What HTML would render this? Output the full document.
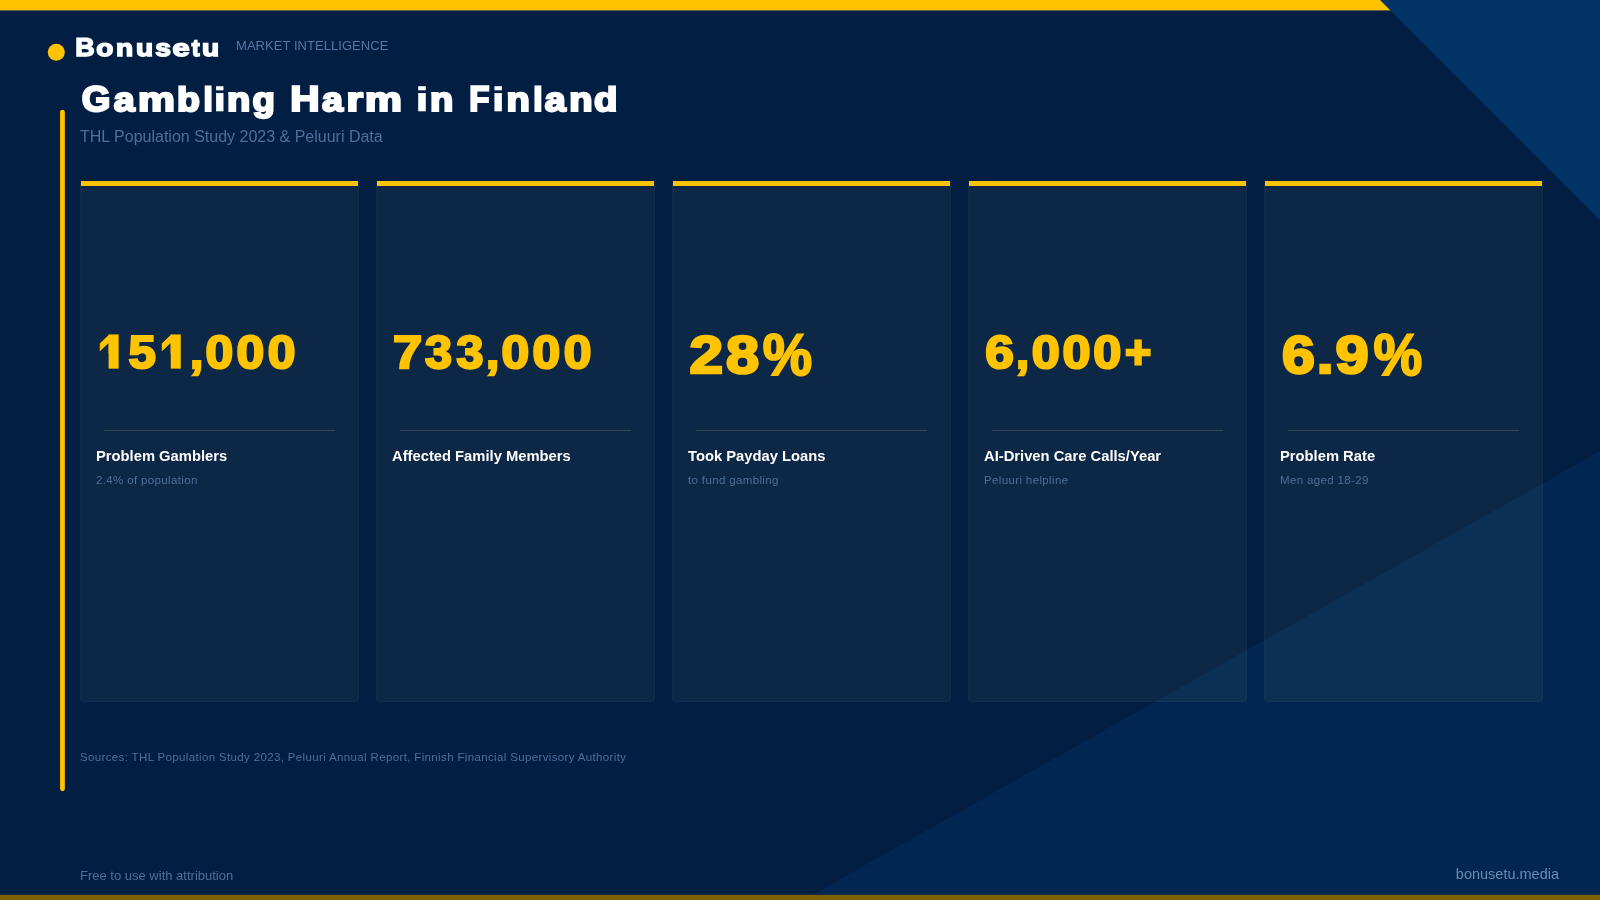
<!DOCTYPE html>
<html lang="en">
<head>
<meta charset="utf-8">
<title>Gambling Harm in Finland</title>
<style>
*{margin:0;padding:0;box-sizing:border-box}
html,body{width:1600px;height:900px;overflow:hidden;background:#021e43}
body{font-family:"Liberation Sans",sans-serif;position:relative;color:#fff}
.abs{position:absolute;white-space:nowrap;line-height:1}
svg{position:absolute;left:0;top:0;width:1600px;height:900px}
svg.hv{will-change:transform}
.layer{position:absolute;left:0;top:0;width:1600px;height:900px;will-change:transform}
svg .num text{fill:#ffc300;stroke:#ffc300}
svg .num rect{fill:#ffc300}
svg .hw text{fill:#fff;stroke:#fff}
svg text{font-family:"Liberation Sans",sans-serif;font-weight:700;white-space:pre;text-rendering:geometricPrecision}
.tag{left:236px;top:39px;font-size:13px;letter-spacing:0.05px;color:#5577a2}
.sub{left:80px;top:129px;font-size:16px;color:#506e98}
.card{position:absolute;top:181px;width:279px;height:520.6px;background:rgba(255,240,150,0.047);border:1px solid rgba(255,255,255,0.028);border-radius:4px;overflow:hidden}
.bar{position:absolute;top:180.8px;width:277px;height:5.2px;background:#ffc300}
.div{position:absolute;height:1px;width:231px;top:430px;background:rgba(255,255,150,0.14)}
.lab{font-size:14.75px;font-weight:700;color:#fff;top:448.7px}
.sl{font-size:11.5px;letter-spacing:0.36px;color:#4e7098;top:474.6px}
.src{left:80px;top:752.2px;font-size:11.5px;letter-spacing:0.357px;color:#506e98}
.free{left:80px;top:869px;font-size:13px;color:#506e98}
.site{right:41px;top:867px;font-size:14.5px;color:#6b8bb5}
</style>
</head>
<body>
<svg viewBox="0 0 1600 900">
  <rect x="0" y="0" width="1600" height="900" fill="#021e43"/>
  <rect x="0" y="0" width="1600" height="10.4" fill="#ffc300"/>
  <polygon points="1380,0 1600,0 1600,220" fill="#023366"/>
  <polygon points="1600,451 1600,900 803,900" fill="#003366" opacity="0.4"/>
  <rect x="0" y="894.8" width="1600" height="5.2" fill="#7e5f03"/>
  <line x1="62.45" y1="112.1" x2="62.45" y2="788.8" stroke="#ffc300" stroke-width="4.8" stroke-linecap="round"/>
  <circle cx="56.3" cy="52.3" r="8.5" fill="#ffc300"/>
</svg>

<div class="layer">
<div class="abs tag">MARKET INTELLIGENCE</div>
<div class="abs sub">THL Population Study 2023 &amp; Peluuri Data</div>

<div class="card" style="left:80px"></div><div class="bar" style="left:81px"></div>
<div class="card" style="left:376px"></div><div class="bar" style="left:377px"></div>
<div class="card" style="left:672px"></div><div class="bar" style="left:673px"></div>
<div class="card" style="left:968px"></div><div class="bar" style="left:969px"></div>
<div class="card" style="left:1264px"></div><div class="bar" style="left:1265px"></div>
<div class="div" style="left:104px"></div>
<div class="div" style="left:400px"></div>
<div class="div" style="left:696px"></div>
<div class="div" style="left:992px"></div>
<div class="div" style="left:1288px"></div>
<div class="abs lab" style="left:96px">Problem Gamblers</div>
<div class="abs sl" style="left:96px">2.4% of population</div>
<div class="abs lab" style="left:392px">Affected Family Members</div>
<div class="abs lab" style="left:688px">Took Payday Loans</div>
<div class="abs sl" style="left:688px">to fund gambling</div>
<div class="abs lab" style="left:984px">AI-Driven Care Calls/Year</div>
<div class="abs sl" style="left:984px">Peluuri helpline</div>
<div class="abs lab" style="left:1280px">Problem Rate</div>
<div class="abs sl" style="left:1280px">Men aged 18-29</div>

<svg class="hv" viewBox="0 0 1600 900">
  <defs><clipPath id="c1_464"><rect x="-20" y="-90" width="30.26" height="76.08"/></clipPath></defs>
  <g class="hw" aria-label="Bonusetu"><text transform="translate(75.13,55.9) scale(1.0407,1)" font-size="25.9" stroke-width="1.5">B</text><text transform="translate(96.34,55.9) scale(1.1708,1)" font-size="23.8" stroke-width="1.5">o</text><text transform="translate(115.89,55.9) scale(1.1775,1)" font-size="23.8" stroke-width="1.5">n</text><text transform="translate(136,55.9) scale(1.1775,1)" font-size="23.8" stroke-width="1.5">u</text><text transform="translate(155.25,55.9) scale(1.1839,1)" font-size="23.8" stroke-width="1.5">s</text><text transform="translate(172.62,55.9) scale(1.293,1)" font-size="23.8" stroke-width="1.5">e</text><text transform="translate(191.81,55.9) scale(0.995,1)" font-size="23.8" stroke-width="1.5">t</text><text transform="translate(202,55.9) scale(1.1775,1)" font-size="23.8" stroke-width="1.5">u</text></g>
  <g class="hw" aria-label="Gambling Harm in Finland"><text transform="translate(81.67,110.83) scale(1.0295,1)" font-size="35.75" stroke-width="2.2">G</text><text transform="translate(113.66,110.83) scale(1.1172,1)" font-size="33.7" stroke-width="2.2">a</text><text transform="translate(137.97,110.83) scale(1.2314,1)" font-size="33.7" stroke-width="2.2">m</text><text transform="translate(177.1,110.83) scale(1.1104,1)" font-size="33.7" stroke-width="2.2">b</text><text transform="translate(203.55,110.83) scale(0.9965,1)" font-size="33.7" stroke-width="2.2">l</text><text transform="translate(213.12,110.83) scale(1.4416,1)" font-size="33.7" stroke-width="0.44">i</text><text transform="translate(226.92,110.83) scale(1.1327,1)" font-size="33.7" stroke-width="2.2">n</text><text transform="translate(252.44,110.83) scale(1.0862,1)" font-size="33.7" stroke-width="2.2">g</text><text> </text><text transform="translate(290.28,110.83) scale(1.1371,1)" font-size="35.75" stroke-width="2.2">H</text><text transform="translate(322.11,110.83) scale(1.1172,1)" font-size="33.7" stroke-width="2.2">a</text><text transform="translate(346.44,110.83) scale(1.2556,1)" font-size="33.7" stroke-width="2.2">r</text><text transform="translate(364.97,110.83) scale(1.2314,1)" font-size="33.7" stroke-width="2.2">m</text><text> </text><text transform="translate(415.27,110.83) scale(1.4416,1)" font-size="33.7" stroke-width="0.44">i</text><text transform="translate(430.02,110.83) scale(1.1327,1)" font-size="33.7" stroke-width="2.2">n</text><text> </text><text transform="translate(469.16,110.83) scale(0.9244,1)" font-size="35.75" stroke-width="2.2">F</text><text transform="translate(491.52,110.83) scale(1.4416,1)" font-size="33.7" stroke-width="0.44">i</text><text transform="translate(506.52,110.83) scale(1.1327,1)" font-size="33.7" stroke-width="2.2">n</text><text transform="translate(533.35,110.83) scale(0.9965,1)" font-size="33.7" stroke-width="2.2">l</text><text transform="translate(544.86,110.83) scale(1.1172,1)" font-size="33.7" stroke-width="2.2">a</text><text transform="translate(569.27,110.83) scale(1.1327,1)" font-size="33.7" stroke-width="2.2">n</text><text transform="translate(594.03,110.83) scale(1.1365,1)" font-size="33.7" stroke-width="2.2">d</text></g>
  <g class="num" aria-label="151,000"><text transform="matrix(1.1523,-0.45,0,1,97.46,371.84)" font-size="46.4" stroke-width="2.3" clip-path="url(#c1_464)">1</text><rect x="108.6" y="334.43" width="10.03" height="34.22"/><text transform="translate(128.46,367.5) scale(1.0557,1)" font-size="46.4" stroke-width="2.3">5</text><text transform="matrix(1.1523,-0.45,0,1,159.61,371.84)" font-size="46.4" stroke-width="2.3" clip-path="url(#c1_464)">1</text><rect x="170.75" y="334.43" width="10.03" height="34.22"/><text transform="translate(189.89,367.5) scale(1.0293,1)" font-size="46.4" stroke-width="2.3">,</text><text transform="translate(205.52,367.5) scale(1.0745,1)" font-size="46.4" stroke-width="2.3">0</text><text transform="translate(236.5,367.5) scale(1.0745,1)" font-size="46.4" stroke-width="2.3">0</text><text transform="translate(267.72,367.5) scale(1.0745,1)" font-size="46.4" stroke-width="2.3">0</text></g>
  <g class="num" aria-label="733,000"><text transform="translate(393,367.5) scale(1.1299,1)" font-size="46.4" stroke-width="2.3">7</text><text transform="translate(425.04,367.5) scale(1.0448,1)" font-size="46.4" stroke-width="2.3">3</text><text transform="translate(456.44,367.5) scale(1.0448,1)" font-size="46.4" stroke-width="2.3">3</text><text transform="translate(485.89,367.5) scale(1.0293,1)" font-size="46.4" stroke-width="2.3">,</text><text transform="translate(501.52,367.5) scale(1.0745,1)" font-size="46.4" stroke-width="2.3">0</text><text transform="translate(532.5,367.5) scale(1.0745,1)" font-size="46.4" stroke-width="2.3">0</text><text transform="translate(563.72,367.5) scale(1.0745,1)" font-size="46.4" stroke-width="2.3">0</text></g>
  <g class="num" aria-label="28%"><text transform="translate(689.44,372.9) scale(1.1381,1)" font-size="53" stroke-width="2.6">2</text><text transform="translate(725.92,372.9) scale(1.1229,1)" font-size="53" stroke-width="2.6">8</text><text transform="translate(762.82,375.17) scale(1.047,1.11)" font-size="53" stroke-width="1.82">%</text></g>
  <g class="num" aria-label="6,000+"><text transform="translate(985.34,367.5) scale(1.11,1)" font-size="46.4" stroke-width="2.3">6</text><text transform="translate(1016.01,367.5) scale(1.0181,1)" font-size="46.4" stroke-width="2.3">,</text><text transform="translate(1031.65,367.5) scale(1.0882,1)" font-size="46.4" stroke-width="2.3">0</text><text transform="translate(1062.4,367.5) scale(1.0882,1)" font-size="46.4" stroke-width="2.3">0</text><text transform="translate(1093.32,367.5) scale(1.0882,1)" font-size="46.4" stroke-width="2.3">0</text><text transform="translate(1124.97,368.4) scale(0.9669,1)" font-size="46.4" stroke-width="2.48">+</text></g>
  <g class="num" aria-label="6.9%"><text transform="translate(1281.89,372.9) scale(1.1145,1)" font-size="53" stroke-width="2.6">6</text><text transform="translate(1316.83,372.9) scale(1.141,1)" font-size="53" stroke-width="2.6">.</text><text transform="translate(1335.45,372.9) scale(1.1248,1)" font-size="53" stroke-width="2.6">9</text><text transform="translate(1373.43,375.17) scale(1.034,1.11)" font-size="53" stroke-width="1.82">%</text></g>
</svg>

<div class="abs src">Sources: THL Population Study 2023, Peluuri Annual Report, Finnish Financial Supervisory Authority</div>
<div class="abs free">Free to use with attribution</div>
<div class="abs site">bonusetu.media</div>
</div>
</body>
</html>
